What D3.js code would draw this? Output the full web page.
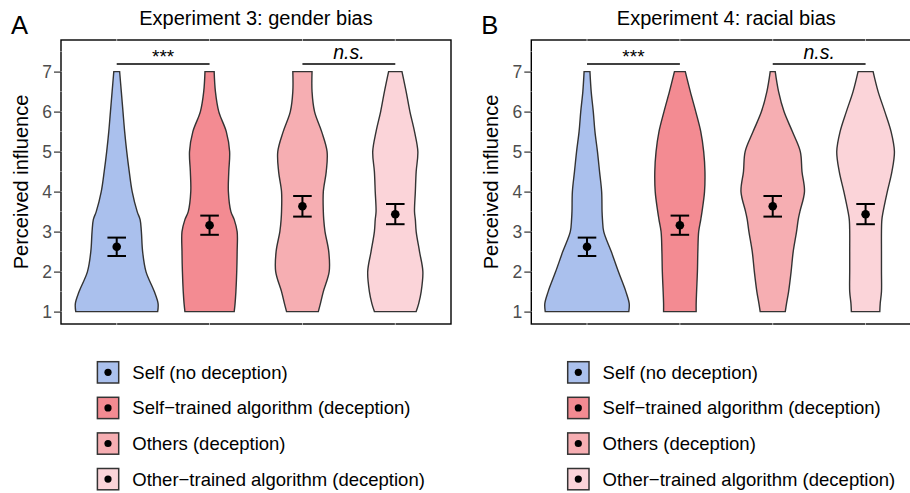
<!DOCTYPE html>
<html>
<head>
<meta charset="utf-8">
<script src="https://cdn.jsdelivr.net/npm/d3@7"></script>
<style>
  body { margin: 0; background: #fff; }
  svg { display: block; font-family: "Liberation Sans", Arial, sans-serif; }
</style>
</head>
<body>
<svg id="chart" width="910" height="493"></svg>
<script>
// violin + mean/CI chart, two experiments side by side
const categories = ["Self (no deception)", "Self\u2212trained algorithm (deception)", "Others (deception)", "Other\u2212trained algorithm (deception)"];
const colors = ["#aac0ed", "#f38b92", "#f6aeb2", "#fbd4d9"];
const panelTitles = ["Experiment 3: gender bias", "Experiment 4: racial bias"];
const panelTags = ["A", "B"];
const yTicks = [1, 2, 3, 4, 5, 6, 7];

// rating levels where the violin outline was read, and relative density (1 = widest)
const densityY = [1, 1.2, 1.5, 2, 2.5, 3, 3.3, 3.5, 4, 4.5, 5, 5.5, 6, 6.5, 7];
const densA = [
  [0.98, 0.99, 0.90, 0.70, 0.62, 0.59, 0.56, 0.49, 0.37, 0.30, 0.24, 0.19, 0.15, 0.11, 0.07],
  [0.59, 0.61, 0.63, 0.65, 0.66, 0.66, 0.59, 0.51, 0.45, 0.46, 0.48, 0.40, 0.22, 0.14, 0.11],
  [0.38, 0.43, 0.50, 0.64, 0.63, 0.54, 0.51, 0.50, 0.50, 0.57, 0.59, 0.46, 0.29, 0.23, 0.23],
  [0.50, 0.56, 0.62, 0.66, 0.58, 0.50, 0.48, 0.46, 0.48, 0.50, 0.54, 0.46, 0.35, 0.26, 0.16]
];
const densB = [
  [1.00, 1.01, 0.93, 0.75, 0.58, 0.40, 0.37, 0.36, 0.35, 0.30, 0.25, 0.19, 0.15, 0.10, 0.07],
  [0.39, 0.39, 0.40, 0.42, 0.43, 0.45, 0.50, 0.53, 0.59, 0.60, 0.57, 0.50, 0.38, 0.25, 0.13],
  [0.30, 0.33, 0.38, 0.44, 0.49, 0.57, 0.61, 0.65, 0.76, 0.70, 0.66, 0.47, 0.27, 0.14, 0.06],
  [0.34, 0.35, 0.38, 0.38, 0.38, 0.38, 0.39, 0.42, 0.52, 0.63, 0.69, 0.61, 0.46, 0.30, 0.18]
];
const meansA = [2.62, 3.16, 3.635, 3.435];
const lowA = [2.39, 2.92, 3.375, 3.185];
const highA = [2.85, 3.40, 3.89, 3.69];
const meansB = [2.62, 3.16, 3.635, 3.435];
const lowB = [2.39, 2.92, 3.375, 3.185];
const highB = [2.85, 3.40, 3.89, 3.69];

const sigPairs = [[0, 1], [2, 3]];
const sigLabels = ["***", "n.s."];
const sigLevel = 7.19;

const svg = d3.select("#chart");
const panelW = 390, plotTop = 40, plotBottom = 324;

const y = d3.scaleLinear().domain([0.69, 7.79]).range([plotBottom, plotTop]);

function drawPanel(i, dens, means, low, high) {
  const left = 61 + i * 470.3;
  const g = svg.append("g");
  const x = d3.scalePoint().domain(d3.range(4)).range([left, left + panelW]).padding(0.6);
  const step = x.step();
  const w = d3.scaleLinear().domain([0, 1]).range([0, 0.45 * step]);

  // tag + title
  g.append("text").attr("x", left - 50).attr("y", 34.3)
    .attr("font-size", 25.6).attr("fill", "#000").text(panelTags[i]);
  g.append("text").attr("x", left + panelW / 2).attr("y", 25)
    .attr("text-anchor", "middle").attr("font-size", 20).attr("fill", "#000").text(panelTitles[i]);

  // axis title
  g.append("text")
    .attr("transform", `translate(${left - 33},${(plotTop + plotBottom) / 2}) rotate(-90)`)
    .attr("text-anchor", "middle").attr("font-size", 20).attr("fill", "#000")
    .text("Perceived influence");

  // violins
  const area = d3.area()
    .y(d => y(d[0]))
    .curve(d3.curveCatmullRom.alpha(0.5));
  dens.forEach((dd, k) => {
    const pts = densityY.map((v, j) => [v, dd[j]]);
    area.x0(d => x(k) - w(d[1])).x1(d => x(k) + w(d[1]));
    g.append("path")
      .attr("d", area(pts))
      .attr("fill", colors[k])
      .attr("stroke", "#333")
      .attr("stroke-width", 1.4);
  });

  // mean and CI
  const capHalf = 0.1 * step;
  means.forEach((m, k) => {
    const cx = x(k);
    g.append("line").attr("x1", cx).attr("x2", cx).attr("y1", y(low[k])).attr("y2", y(high[k]))
      .attr("stroke", "#000").attr("stroke-width", 2);
    [low[k], high[k]].forEach(v => {
      g.append("line").attr("x1", cx - capHalf).attr("x2", cx + capHalf).attr("y1", y(v)).attr("y2", y(v))
        .attr("stroke", "#000").attr("stroke-width", 2);
    });
    g.append("circle").attr("cx", cx).attr("cy", y(m)).attr("r", 4.3).attr("fill", "#000");
  });

  // significance brackets
  sigPairs.forEach((p, k) => {
    g.append("line").attr("x1", x(p[0])).attr("x2", x(p[1]))
      .attr("y1", y(sigLevel)).attr("y2", y(sigLevel))
      .attr("stroke", "#000").attr("stroke-width", 1.6);
    const isNs = sigLabels[k] !== "***";
    g.append("text").attr("x", (x(p[0]) + x(p[1])) / 2)
      .attr("y", isNs ? y(sigLevel) - 4.7 : y(sigLevel) - 1.5)
      .attr("text-anchor", "middle").attr("font-size", isNs ? 19.5 : 19)
      .attr("font-style", isNs ? "italic" : "normal")
      .attr("fill", "#000").text(sigLabels[k]);
  });

  // border
  g.append("rect").attr("x", left).attr("y", plotTop).attr("width", panelW).attr("height", plotBottom - plotTop)
    .attr("fill", "none").attr("stroke", "#000").attr("stroke-width", 1.4);

  // faint white grid crossing the border (as in the original render)
  const minor = d3.range(0.5, 7.6, 0.5);
  minor.forEach(v => {
    g.append("line").attr("x1", left - 1).attr("x2", left + 1).attr("y1", y(v)).attr("y2", y(v))
      .attr("stroke", "#fff").attr("stroke-width", 0.6).attr("opacity", 0.7);
  });
  d3.range(4).forEach(k => {
    [plotTop, plotBottom].forEach(yy => {
      g.append("line").attr("x1", x(k)).attr("x2", x(k)).attr("y1", yy - 1).attr("y2", yy + 1)
        .attr("stroke", "#fff").attr("stroke-width", 0.8).attr("opacity", 0.8);
    });
  });

  // y axis
  const axis = g.append("g").attr("transform", `translate(${left},0)`)
    .call(d3.axisLeft(y).tickValues(yTicks).tickSize(7).tickPadding(2).tickFormat(d3.format("d")));
  axis.select(".domain").remove();
  axis.selectAll(".tick line").attr("stroke", "#333").attr("stroke-width", 1.2);
  axis.selectAll(".tick text").attr("fill", "#4d4d4d").attr("font-size", 17.5)
    .attr("font-family", "'Liberation Sans', Arial, sans-serif");

  // legend
  const lg = g.append("g").attr("transform", `translate(${left + 35.7},361)`);
  categories.forEach((c, k) => {
    const row = lg.append("g").attr("transform", `translate(0,${k * 35.6})`);
    row.append("rect").attr("x", 0.7).attr("y", 0.7).attr("width", 21.3).attr("height", 21.3)
      .attr("fill", colors[k]).attr("stroke", "#333").attr("stroke-width", 1.5);
    row.append("circle").attr("cx", 11.3).attr("cy", 11.3).attr("r", 3.6).attr("fill", "#000");
    row.append("text").attr("x", 35.6).attr("y", 11.3).attr("dy", "0.35em")
      .attr("font-size", 18.5).attr("fill", "#000").text(c);
  });
}

drawPanel(0, densA, meansA, lowA, highA);
drawPanel(1, densB, meansB, lowB, highB);
</script>
</body>
</html>
